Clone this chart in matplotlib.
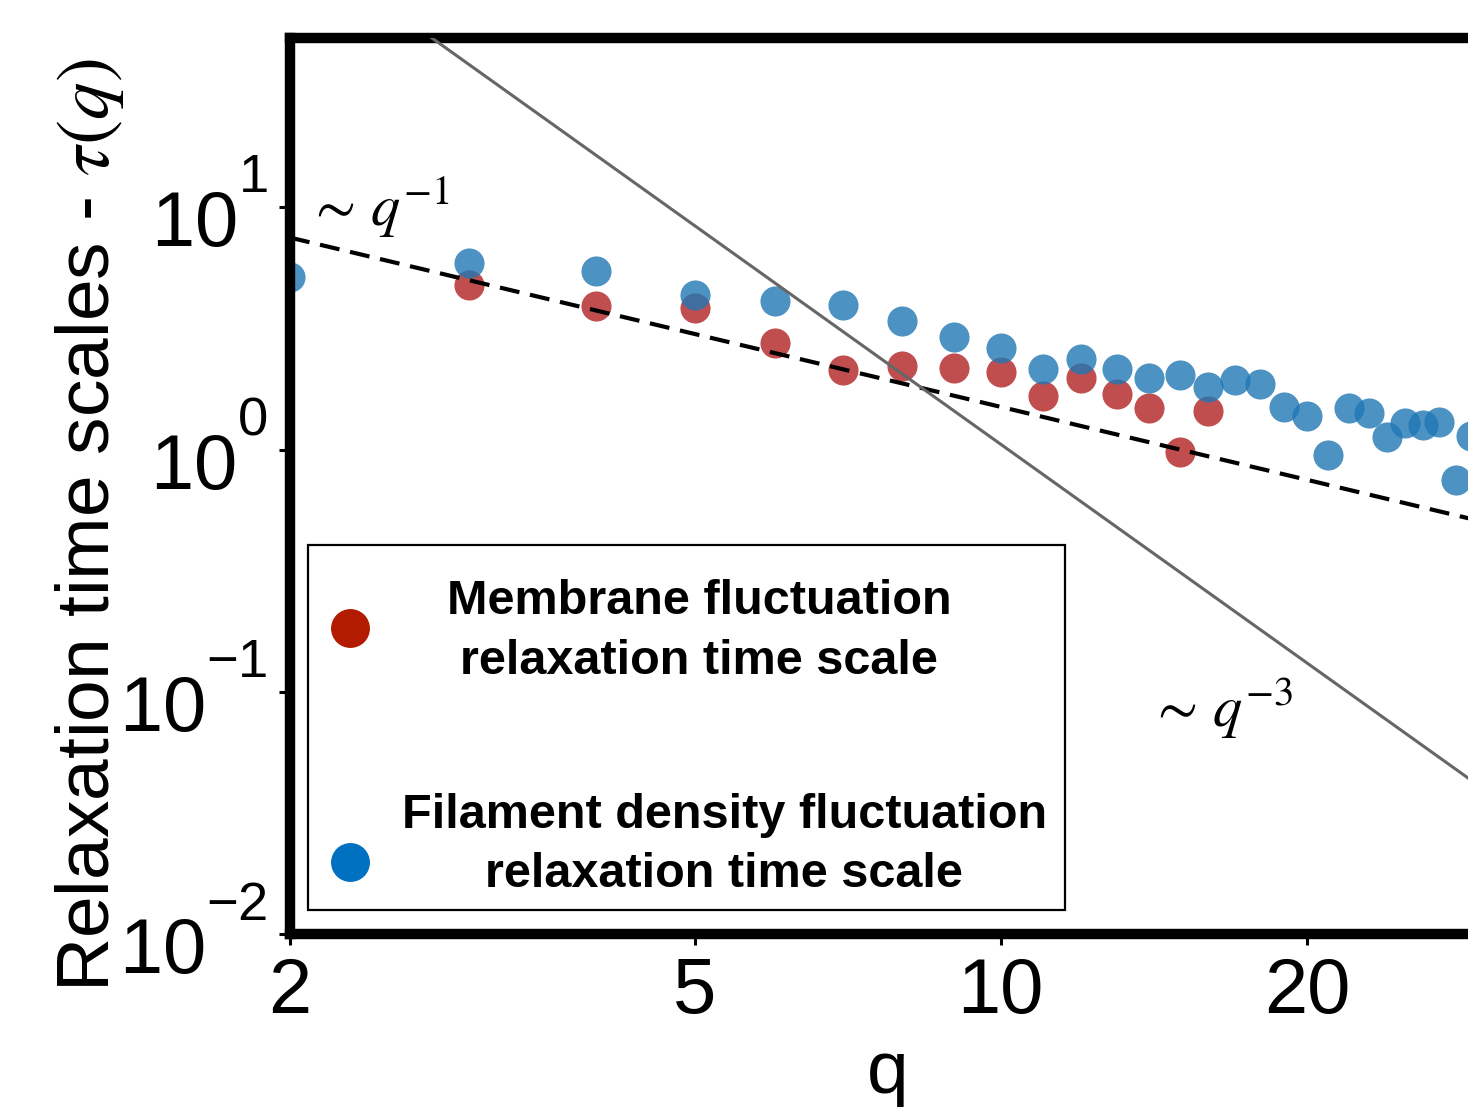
import numpy as np
import matplotlib
matplotlib.use('Agg')
import matplotlib.pyplot as plt
from matplotlib.patches import Rectangle
from matplotlib.ticker import NullLocator

# the original tick labels have their exponents raised above the "10"
try:
    import matplotlib._mathtext as _mt
    _mt.FontConstantsBase.sup1 = 1.3
except Exception:
    pass

# relaxation times
q_membrane = [3, 4, 5, 6, 7, 8, 9, 10, 11, 12, 13, 14, 15, 16]
tau_membrane = [4.79, 3.92, 3.85, 2.76, 2.14, 2.22, 2.18, 2.08, 1.67, 1.98, 1.70, 1.49, 0.98, 1.44]

q_filament = [2, 3, 4, 5, 6, 7, 8, 9, 10, 11, 12, 13, 14, 15, 16, 17, 18, 19, 20,
              21, 22, 23, 24, 25, 26, 27, 28, 29]
tau_filament = [5.17, 5.90, 5.47, 4.36, 4.11, 3.96, 3.40, 2.92, 2.63, 2.16, 2.37, 2.16,
                1.98, 2.04, 1.82, 1.94, 1.87, 1.50, 1.37, 0.945, 1.49, 1.42, 1.13, 1.29,
                1.26, 1.30, 0.75, 1.14]

# end points of the two power law guides
guide_q = [2, 30]
guide_q1 = [7.5, 0.5]      # ~ q^-1
guide_q3 = [131, 0.039]    # ~ q^-3

x_ticks = [2, 5, 10, 20]
x_tick_labels = ['2', '5', '10', '20']
y_ticks = [1e-2, 1e-1, 1e0, 1e1]

labels = ['Membrane fluctuation\nrelaxation time scale',
          'Filament density fluctuation\nrelaxation time scale']

plt.rcParams['font.family'] = ['Liberation Sans', 'DejaVu Sans']
plt.rcParams['mathtext.fontset'] = 'stix'

fig = plt.figure(figsize=(14.68, 11.07), dpi=100)
# axes runs past the right edge of the picture, like the cropped original
ax = fig.add_axes([290 / 1468, 1 - 934 / 1107, 1196 / 1468, 896 / 1107])
ax.set_xscale('log')
ax.set_yscale('log')

ax.scatter(q_membrane, tau_membrane, s=470, color='#b22222', alpha=0.8,
           linewidths=0, zorder=1)
ax.scatter(q_filament, tau_filament, s=470, color='#1f77b4', alpha=0.8,
           linewidths=0, zorder=1.5)

ax.plot(guide_q, guide_q1, color='black', lw=3, linestyle=(0, (4.8, 2.6)), zorder=3)
ax.plot(guide_q, guide_q3, color='#666666', lw=2.2, zorder=3)

ax.text(2.08, 8.4, r'$\sim\, q^{-1}$', fontsize=42, ha='left', va='baseline')
ax.text(14.0, 0.0714, r'$\sim\, q^{-3}$', fontsize=42, ha='left', va='baseline')

ax.set_xlim(2, 30)
ax.set_ylim(1e-2, 50)
ax.set_xticks(x_ticks)
ax.set_xticklabels(x_tick_labels)
ax.set_yticks(y_ticks)
ax.xaxis.set_minor_locator(NullLocator())
ax.yaxis.set_minor_locator(NullLocator())
ax.tick_params(axis='both', which='major', labelsize=56, length=8, width=2.2,
               direction='out', pad=8)

for side in ['left', 'top', 'bottom']:
    ax.spines[side].set_linewidth(7.5)
ax.spines['right'].set_visible(False)

ax.set_ylabel(r'Relaxation time scales - $\tau(q)$', fontsize=54)
ax.yaxis.set_label_coords(-0.137, 0.456)
ax.set_xlabel('q', fontsize=54)
ax.xaxis.set_label_coords(0.5, -0.117)

# hand-made legend box, text centred next to each marker
ax.add_patch(Rectangle((0.0150, 0.0268), 0.633, 0.407, transform=ax.transAxes,
                       fill=False, edgecolor='black', lw=1.6, zorder=4))
ax.plot([0.0502], [0.3415], 'o', ms=27, color='#b31b00', transform=ax.transAxes,
        zorder=5, clip_on=False)
ax.plot([0.0502], [0.0804], 'o', ms=27, color='#0070c0', transform=ax.transAxes,
        zorder=5, clip_on=False)
ax.text(0.342, 0.338, labels[0], transform=ax.transAxes, fontsize=35,
        fontweight='bold', ha='center', va='center', multialignment='center',
        linespacing=1.42, zorder=5)
ax.text(0.363, 0.0993, labels[1], transform=ax.transAxes, fontsize=35,
        fontweight='bold', ha='center', va='center', multialignment='center',
        linespacing=1.42, zorder=5)

fig.savefig('out.png', dpi=100)
